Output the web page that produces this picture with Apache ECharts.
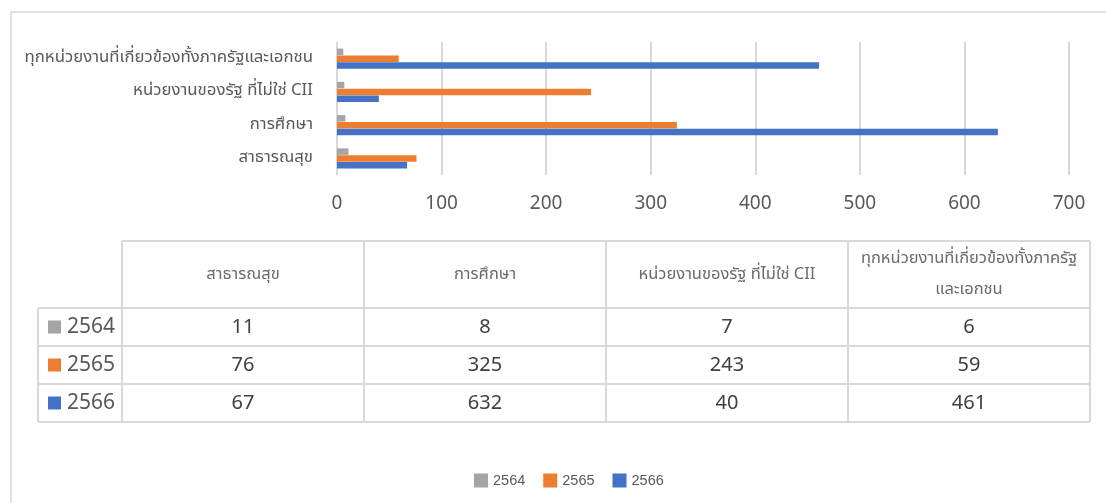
<!DOCTYPE html>
<html>
<head>
<meta charset="utf-8">
<script src="https://cdn.jsdelivr.net/npm/echarts@6/dist/echarts.min.js"></script>
<style>
  html, body { margin: 0; padding: 0; background: #ffffff; }
  #chart { width: 1106px; height: 503px; }
</style>
</head>
<body>
<div id="chart"></div>
<script>
// Categories, bottom to top on the bar axis (same order as table columns)
const categories = ['สาธารณสุข', 'การศึกษา', 'หน่วยงานของรัฐ ที่ไม่ใช่ CII', 'ทุกหน่วยงานที่เกี่ยวข้องทั้งภาครัฐและเอกชน'];
// Table header text (last one wraps onto two lines)
const headerLabels = ['สาธารณสุข', 'การศึกษา', 'หน่วยงานของรัฐ ที่ไม่ใช่ CII', 'ทุกหน่วยงานที่เกี่ยวข้องทั้งภาครัฐ\nและเอกชน'];
const years = ['2564', '2565', '2566'];
const values2564 = [11, 8, 7, 6];
const values2565 = [76, 325, 243, 59];
const values2566 = [67, 632, 40, 461];
const xTickLabels = ['0', '100', '200', '300', '400', '500', '600', '700'];

const seriesValues = [values2564, values2565, values2566];
const colors = ['#a5a5a5', '#ed7d31', '#4472c4'];
const thaiFont = "'Noto Sans Thai', 'Noto Sans', 'DejaVu Sans', sans-serif";
const numFont = "'Noto Sans', 'Open Sans', sans-serif";
const gridColor = '#d9d9d9';

// Data table geometry
const tbl = {
  left: 38, keyRight: 122, colW: 242,
  rows: [241, 308, 346, 384, 422]
};
const tblRight = tbl.keyRight + tbl.colW * categories.length;

const graphics = [];
// outer chart frame
graphics.push({
  type: 'rect', z: -10, silent: true,
  shape: { x: 11, y: 12, width: 1200, height: 600 },
  style: { fill: '#ffffff', stroke: gridColor, lineWidth: 1.5 }
});
function hLine(x1, x2, y) {
  graphics.push({ type: 'line', silent: true, shape: { x1, y1: y, x2, y2: y },
    style: { stroke: gridColor, lineWidth: 2 } });
}
function vLine(x, y1, y2) {
  graphics.push({ type: 'line', silent: true, shape: { x1: x, y1, x2: x, y2 },
    style: { stroke: gridColor, lineWidth: 2 } });
}
hLine(tbl.keyRight, tblRight, tbl.rows[0]);
for (let r = 1; r < tbl.rows.length; r++) hLine(tbl.left, tblRight, tbl.rows[r]);
vLine(tbl.left, tbl.rows[1], tbl.rows[4]);
for (let c = 0; c <= categories.length; c++) {
  vLine(tbl.keyRight + c * tbl.colW, tbl.rows[0], tbl.rows[4]);
}
// header cells
headerLabels.forEach((label, c) => {
  graphics.push({
    type: 'text', silent: true,
    x: tbl.keyRight + (c + 0.5) * tbl.colW,
    y: (tbl.rows[0] + tbl.rows[1]) / 2 + 1,
    style: {
      text: label, fontFamily: thaiFont, fontSize: 16.5, fill: '#6b6b6b',
      align: 'center', verticalAlign: 'middle', lineHeight: 31
    }
  });
});
// series rows: legend key, year, values
years.forEach((year, r) => {
  const cy = (tbl.rows[r + 1] + tbl.rows[r + 2]) / 2;
  graphics.push({
    type: 'rect', silent: true,
    shape: { x: 48, y: cy - 6.5, width: 13, height: 13 },
    style: { fill: colors[r] }
  });
  graphics.push({
    type: 'text', silent: true, x: 67, y: cy,
    style: { text: year, fontFamily: numFont, fontSize: 21, fill: '#595959',
      align: 'left', verticalAlign: 'middle' }
  });
  seriesValues[r].forEach((v, c) => {
    graphics.push({
      type: 'text', silent: true,
      x: tbl.keyRight + (c + 0.5) * tbl.colW, y: cy,
      style: { text: String(v), fontFamily: numFont, fontSize: 20, fill: '#404040',
        align: 'center', verticalAlign: 'middle' }
    });
  });
});

const chart = echarts.init(document.getElementById('chart'), null, { renderer: 'canvas' });
chart.setOption({
  animation: false,
  backgroundColor: '#ffffff',
  grid: { left: 337, right: 37, top: 42, bottom: 328, containLabel: false },
  xAxis: {
    type: 'value', min: 0, max: 700, interval: 100,
    axisLine: { show: false }, axisTick: { show: false },
    splitLine: { show: true, lineStyle: { color: gridColor, width: 2 } },
    axisLabel: {
      margin: 19, fontSize: 19, color: '#595959', fontFamily: numFont,
      formatter: (v) => xTickLabels[Math.round(v / 100)]
    }
  },
  yAxis: {
    type: 'category', data: categories,
    axisLine: { show: false }, axisTick: { show: false },
    axisLabel: { margin: 24, fontSize: 16.8, color: '#595959', fontFamily: thaiFont }
  },
  legend: {
    data: years, left: 469, top: 468, icon: 'rect',
    itemWidth: 14, itemHeight: 14, itemGap: 18,
    textStyle: { fontSize: 14.5, color: '#595959', fontFamily: "'Liberation Sans', Arial, sans-serif" }
  },
  graphic: graphics,
  series: years.map((year, i) => ({
    name: year, type: 'bar', data: seriesValues[i],
    barWidth: 6.5, barGap: '4%', barCategoryGap: '41%',
    itemStyle: { color: colors[i] }
  }))
});
</script>
</body>
</html>
